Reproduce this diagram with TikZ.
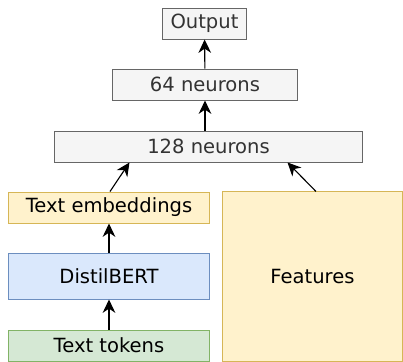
\documentclass[tikz,border=0pt]{standalone}
\usepackage{fontspec}
\setmainfont{DejaVu Sans}
\usetikzlibrary{arrows.meta,calc}
\definecolor{grayfill}{HTML}{F5F5F5}
\definecolor{graydraw}{HTML}{666666}
\definecolor{yellowfill}{HTML}{FFF2CC}
\definecolor{yellowdraw}{HTML}{D6B656}
\definecolor{bluefill}{HTML}{DAE8FC}
\definecolor{bluedraw}{HTML}{6C8EBF}
\definecolor{greenfill}{HTML}{D5E8D4}
\definecolor{greendraw}{HTML}{82B366}

\begin{document}
\begin{tikzpicture}[x=0.025cm, y=-0.025cm, line width=0.7pt,
    box/.style={draw, inner sep=0pt, font=\fontsize{13.9}{16}\selectfont},
    layer/.style={box, fill=grayfill, draw=graydraw, text=black!80, minimum height=0.775cm},
    emb/.style={box, fill=yellowfill, draw=yellowdraw, minimum width=5cm},
    arr/.style={-{Stealth[length=9.5pt, width=9pt, inset=3pt]}, line width=0.8pt}]
  \useasboundingbox (0,0) rectangle (403,362);
  \node[layer, minimum width=2.075cm] (out) at (204.5,23.5) {Output};
  \node[layer, minimum width=4.6cm] (l64) at (205,84.5) {64 neurons};
  \node[layer, minimum width=7.675cm] (l128) at (208.5,146.5) {128 neurons};
  \node[emb, minimum height=0.775cm] (temb) at (109,207.5) {Text embeddings};
  \node[box, fill=bluefill, draw=bluedraw, minimum width=5cm, minimum height=1.15cm] (bert) at (109,276) {DistilBERT};
  \node[box, fill=greenfill, draw=greendraw, minimum width=5cm, minimum height=0.775cm] (tok) at (109,345.5) {Text tokens};
  \node[emb, minimum width=4.475cm, minimum height=4.225cm] (feat) at (312.5,276.5) {Features};
  % connections
  \draw[arr] (tok) -- (bert);
  \draw[arr] (bert) -- (temb);
  \draw[arr] ($(temb.north)+(1,0)$) -- ($(l128.south west)+(75,0)$);
  \draw[arr] ($(feat.north)+(3.5,0)$) -- ($(l128.south east)+(-75,0)$);
  \draw[arr] (l128.north -| l64) -- (l64.south);
  \draw[arr] (l64) -- (out);
\end{tikzpicture}
\end{document}
